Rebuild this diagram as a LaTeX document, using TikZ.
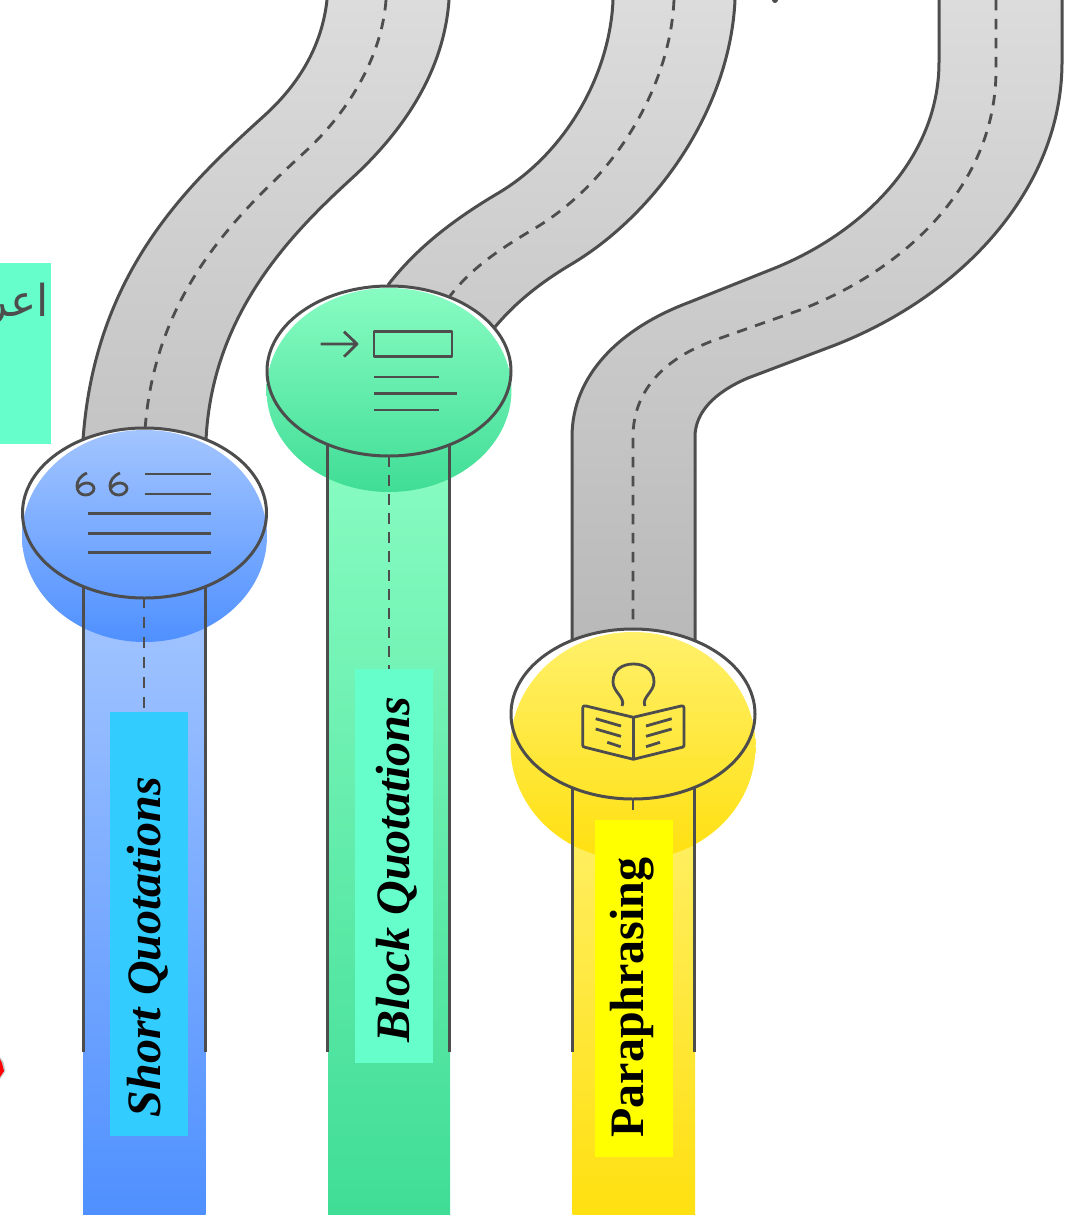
\documentclass[tikz,border=0pt]{standalone}
\usepackage{fontspec}
\setmainfont{Liberation Serif}
\newfontfamily\arabicfont[Script=Arabic]{DejaVu Sans}
\TeXXeTstate=1
\definecolor{ink}{HTML}{4D4D4D}
\definecolor{roadtop}{HTML}{DCDCDC}
\definecolor{roadA}{HTML}{C4C4C4}
\definecolor{roadB}{HTML}{CACACA}
\definecolor{roadC}{HTML}{B9B9B9}
\definecolor{blueA}{HTML}{A3C5FF}
\definecolor{blueB}{HTML}{4F90FF}
\definecolor{greenA}{HTML}{88FCC2}
\definecolor{greenB}{HTML}{40DD96}
\definecolor{yellowA}{HTML}{FFF06A}
\definecolor{yellowB}{HTML}{FFE010}
\definecolor{labelblue}{HTML}{33CCFF}
\definecolor{labelgreen}{HTML}{66FFCC}
\definecolor{labelyellow}{HTML}{FFFF00}
\tikzset{
  edgeline/.style={draw=ink,line width=3pt},
  iconline/.style={draw=ink,line width=2.8pt,line join=round},
  midline/.style={draw=ink,line width=2.8pt,dash pattern=on 10.5pt off 8.5pt},
  discrim/.style={draw=ink,line width=3pt,fill=none},
  labeltext/.style={rotate=90,text=black,font=\fontsize{48}{48}\selectfont\bfseries},
}
\begin{document}
\begin{tikzpicture}[x=1pt,y=-1pt]
\useasboundingbox (0,0) rectangle (1069,1215);
% small fragments at the picture's edges
\fill[ink] (775,0) circle (3);
\fill[gray!45] (0,1057) -- (3.5,1062) -- (5.5,1071) -- (0,1079) -- cycle;
\fill[red] (0,1059) -- (2,1063) -- (4,1071) -- (0,1077) -- cycle;
% left label
\fill[labelgreen] (0,263) rectangle (51,444);
\begin{scope}
\clip (0,263) rectangle (51,444);
\node[anchor=east,inner sep=0pt,text=ink,font=\arabicfont\fontsize{44}{44}\selectfont] (arabiclabel) at (49,305) {\beginR اعر\endR};
\end{scope}
% road 1
\path[top color=roadtop,bottom color=roadA]
 (327,0) .. controls (322,45) and (300,83) .. (265,115) .. controls (190,183) and (95,270) .. (83,440)
 -- (206,440) .. controls (212,315) and (290,235) .. (350,180) .. controls (405,130) and (444,70) .. (449,0) -- cycle;
\draw[edgeline] (327,0) .. controls (322,45) and (300,83) .. (265,115) .. controls (190,183) and (95,270) .. (83,440);
\draw[edgeline] (449,0) .. controls (444,70) and (405,130) .. (350,180) .. controls (290,235) and (212,315) .. (206,440);
\draw[midline] (386,0) .. controls (382,55) and (350,110) .. (307,150) .. controls (240,212) and (155,290) .. (145,430);
% road 2
\path[top color=roadtop,bottom color=roadB]
 (613,0) .. controls (610,75) and (565,155) .. (495,195) .. controls (450,222) and (415,250) .. (388,285)
 -- (495,327) .. controls (515,303) and (540,283) .. (570,265) .. controls (655,215) and (730,110) .. (735,0) -- cycle;
\draw[edgeline] (613,0) .. controls (610,75) and (565,155) .. (495,195) .. controls (450,222) and (415,250) .. (388,285);
\draw[edgeline] (735,0) .. controls (730,110) and (655,215) .. (570,265) .. controls (540,283) and (515,303) .. (495,327);
\draw[midline] (674,0) .. controls (670,90) and (610,185) .. (532,230) .. controls (495,252) and (470,270) .. (450,296);
% road 3
\path[top color=roadtop,bottom color=roadC]
 (939,0) -- (939,62) .. controls (939,160) and (860,235) .. (770,270) -- (690,302) .. controls (620,328) and (572,375) .. (572,437) -- (572,640)
 -- (695,640) -- (695,437) .. controls (695,412) and (715,392) .. (748,378) -- (830,347) .. controls (960,298) and (1062,190) .. (1062,62) -- (1062,0) -- cycle;
\draw[edgeline] (939,0) -- (939,62) .. controls (939,160) and (860,235) .. (770,270) -- (690,302) .. controls (620,328) and (572,375) .. (572,437) -- (572,640);
\draw[edgeline] (1062,0) -- (1062,62) .. controls (1062,190) and (960,298) .. (830,347) -- (748,378) .. controls (715,392) and (695,412) .. (695,437) -- (695,640);
\draw[midline] (996,0) -- (996,70) .. controls (996,185) and (905,270) .. (800,310) -- (715,340) .. controls (665,358) and (633,390) .. (633,437) -- (633,630);
% strips
\path[top color=blueA,bottom color=blueB] (83,600) rectangle (205.5,1215);
\path[top color=greenA,bottom color=greenB] (328,450) rectangle (450,1215);
\path[top color=yellowA,bottom color=yellowB] (572.5,790) rectangle (695,1215);
% blue disc
\fill[white] (144.5,513) ellipse [x radius=122,y radius=85];
\path[top color=blueA,bottom color=blueB] (144.5,536) ellipse [x radius=122.5,y radius=106];
\draw[edgeline] (83,587) -- (83,1052);
\draw[edgeline] (205.5,587) -- (205.5,1052);
\draw[midline,dash pattern=on 11pt off 9pt,dash phase=2pt] (144,599) -- (144,712);
% green disc
\fill[white] (389,371) ellipse [x radius=122,y radius=85];
\path[top color=greenA,bottom color=greenB] (389,390) ellipse [x radius=122.5,y radius=102];
\draw[edgeline] (327.5,445) -- (327.5,1052);
\draw[edgeline] (449.5,445) -- (449.5,1052);
\draw[midline] (389,456) -- (389,669);
% yellow disc
\fill[white] (633,714) ellipse [x radius=122,y radius=85];
\path[top color=yellowA,bottom color=yellowB] (633,746) ellipse [x radius=122.5,y radius=114];
\draw[edgeline] (572.5,788) -- (572.5,1052);
\draw[edgeline] (694.5,788) -- (694.5,1052);
\draw[midline] (633,799) -- (633,811);
% labels
\fill[labelblue] (110,712) rectangle (188,1136);
\fill[labelgreen] (355,669) rectangle (433,1063);
\fill[labelyellow] (595,820) rectangle (673,1157);
\node[labeltext,font=\fontsize{48}{48}\selectfont\bfseries\itshape] (shortlabel) at (148,947) {Short Quotations};
\node[labeltext,font=\fontsize{48}{48}\selectfont\bfseries\itshape] (blocklabel) at (397,869.5) {Block Quotations};
\node[labeltext] (paralabel) at (632,997.5) {Paraphrasing};
% disc outlines
\draw[discrim] (144.5,513) ellipse [x radius=122,y radius=85];
\draw[discrim] (389,371) ellipse [x radius=122,y radius=85];
\draw[discrim] (633,714) ellipse [x radius=122,y radius=85];
% blue icon
\draw[iconline] (145,474) -- (211,474) (145,494) -- (211,494) (88,513.5) -- (211,513.5) (88,533.3) -- (211,533.3) (88,552.6) -- (211,552.6);
\draw[iconline] (87,473) .. controls (80,476) and (77,481) .. (77,486) .. controls (77,492) and (81,495) .. (85.5,495) .. controls (90,495) and (94,492) .. (94,488.5) .. controls (94,485) and (90,483) .. (87,483) .. controls (83,483) and (80,485) .. (78,488);
\draw[iconline] (120,473) .. controls (113,476) and (110,481) .. (110,486) .. controls (110,492) and (114,495) .. (118.5,495) .. controls (123,495) and (127,492) .. (127,488.5) .. controls (127,485) and (123,483) .. (120,483) .. controls (116,483) and (113,485) .. (111,488);
% green icon
\draw[iconline] (320.7,344) -- (356.7,344) (344,331.7) -- (357,344) -- (344,356.7);
\draw[iconline] (374,331.3) rectangle (452,356.7);
\draw[iconline] (374,377) -- (439.3,377) (374,393.5) -- (457,393.5) (374,410) -- (439.3,410);
% yellow icon
\draw[iconline] (622,706) .. controls (626,698) and (613,692) .. (613,682) .. controls (613,670) and (622,664) .. (633.5,664) .. controls (645,664) and (654,670) .. (654,682) .. controls (654,692) and (641,698) .. (645,706);
\draw[iconline] (633.3,717.3) -- (586,706) .. controls (584,705.6) and (582.7,706) .. (582.7,708) -- (582.7,745) .. controls (582.7,746.5) and (583.5,747) .. (585,747.3) -- (633.3,759.3) -- (682,747.3) .. controls (683.5,747) and (684,746.5) .. (684,745) -- (684,708) .. controls (684,706) and (683,705.6) .. (681,706) -- cycle;
\draw[iconline] (633.3,717.3) -- (633.3,759.3);
\draw[iconline] (595.7,718.7) -- (621,726) (595.7,729) -- (621,736.3) (607.3,742.3) -- (620.7,746.7);
\draw[iconline] (646,726) -- (671.7,718.7) (646,736.3) -- (671.7,729) (646,746.7) -- (660,742.3);
\end{tikzpicture}
\end{document}
